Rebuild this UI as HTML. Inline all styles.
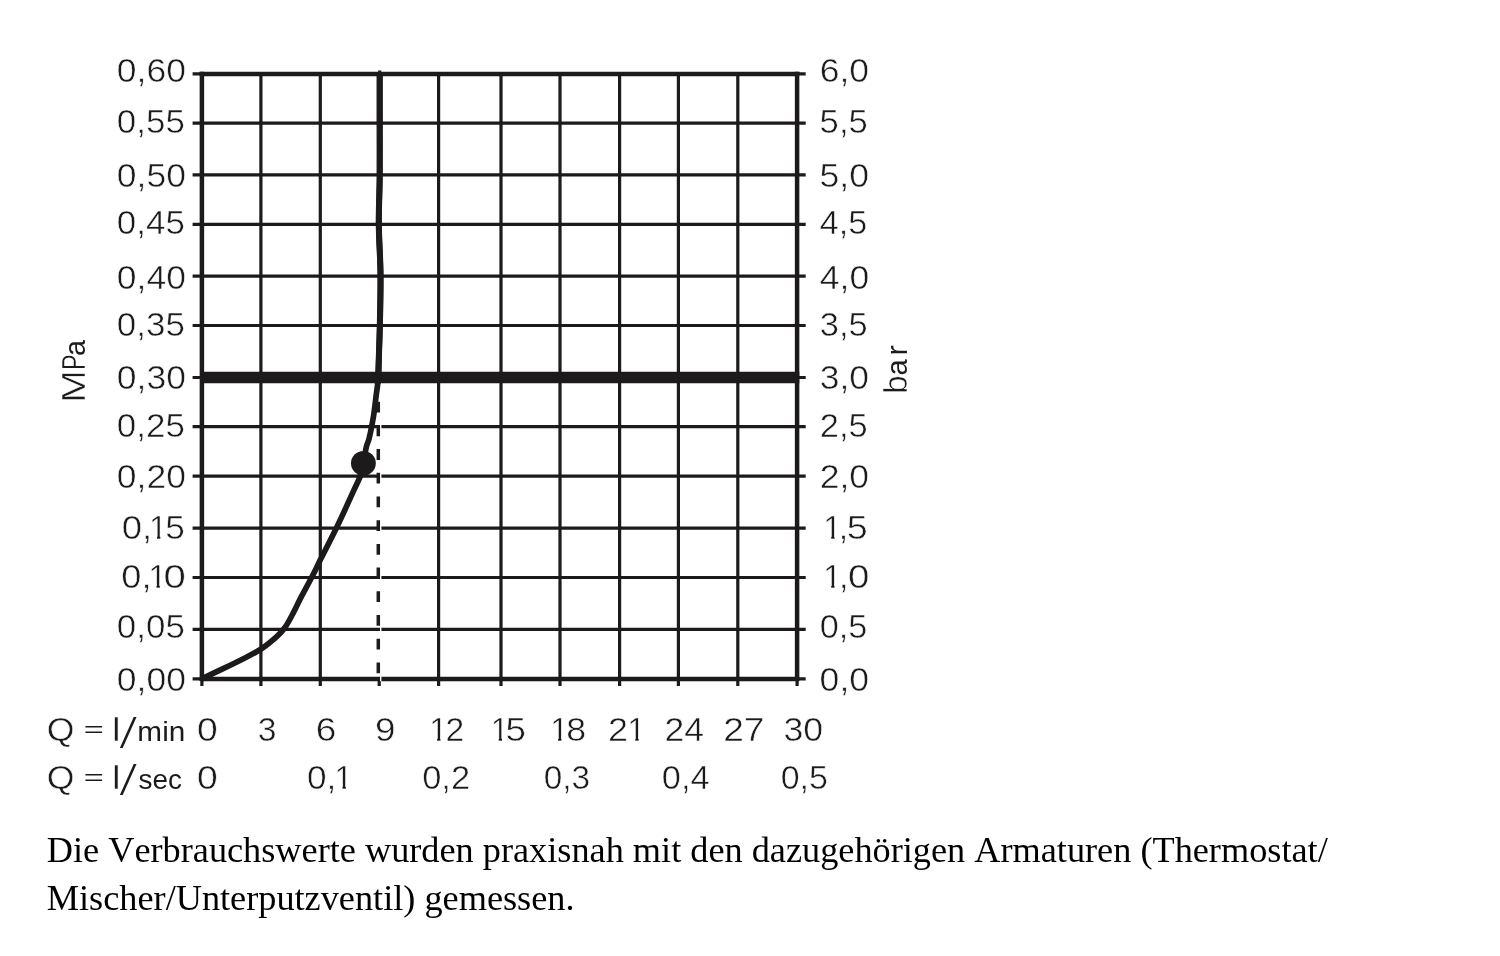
<!DOCTYPE html>
<html lang="de"><head><meta charset="utf-8"><title>Durchflussdiagramm</title>
<style>html,body{margin:0;padding:0;background:#fff}body{width:1500px;height:956px;overflow:hidden;position:relative}svg{position:absolute;left:0;top:0;display:block}.s{font-family:'Liberation Sans', sans-serif;font-size:33.8px;fill:#1c1a1b;stroke:#fff;stroke-width:0.5px}.p{position:absolute;left:46.8px;top:826.2px;margin:0;font-family:'Liberation Serif',serif;font-size:36.28px;line-height:48px;color:#000;white-space:nowrap;font-kerning:none}</style></head><body>
<svg width="1500" height="956" viewBox="0 0 1500 956">
<rect width="1500" height="956" fill="#fff"/>
<g stroke="#1c1a1b" stroke-width="3.2" fill="none"><line x1="192.6" y1="73.9" x2="805.7" y2="73.9"/><line x1="192.6" y1="123.2" x2="805.7" y2="123.2"/><line x1="192.6" y1="174.9" x2="805.7" y2="174.9"/><line x1="192.6" y1="224.4" x2="805.7" y2="224.4"/><line x1="192.6" y1="276.2" x2="805.7" y2="276.2"/><line x1="192.6" y1="325.5" x2="805.7" y2="325.5"/><line x1="192.6" y1="426.6" x2="805.7" y2="426.6"/><line x1="192.6" y1="476.2" x2="805.7" y2="476.2"/><line x1="192.6" y1="528.1" x2="805.7" y2="528.1"/><line x1="192.6" y1="577.5" x2="805.7" y2="577.5"/><line x1="192.6" y1="629.3" x2="805.7" y2="629.3"/><line x1="192.6" y1="678.9" x2="805.7" y2="678.9"/><line x1="201.9" y1="678" x2="201.9" y2="686"/><line x1="260.9" y1="74" x2="260.9" y2="686"/><line x1="320.3" y1="74" x2="320.3" y2="686"/><line x1="379.7" y1="70.6" x2="379.7" y2="377"/><line x1="379.2" y1="678" x2="379.2" y2="686"/><line x1="438.6" y1="74" x2="438.6" y2="686"/><line x1="501.0" y1="74" x2="501.0" y2="686"/><line x1="560.0" y1="74" x2="560.0" y2="686"/><line x1="619.6" y1="74" x2="619.6" y2="686"/><line x1="678.4" y1="74" x2="678.4" y2="686"/><line x1="737.8" y1="74" x2="737.8" y2="686"/><line x1="797.1" y1="678" x2="797.1" y2="686"/></g>
<g stroke="#1c1a1b" stroke-width="4.5" fill="none"><line x1="199.7" y1="73.9" x2="799.3" y2="73.9"/><line x1="199.7" y1="678.9" x2="799.3" y2="678.9"/><line x1="201.9" y1="71.7" x2="201.9" y2="681"/><line x1="797.1" y1="71.7" x2="797.1" y2="681"/></g>
<line x1="192.6" y1="377.5" x2="805.7" y2="377.5" stroke="#1c1a1b" stroke-width="3.2"/>
<line x1="200" y1="377.5" x2="799.3" y2="377.5" stroke="#1c1a1b" stroke-width="11.5"/>
<line x1="380.7" y1="383.2" x2="380.7" y2="681.3" stroke="#fff" stroke-width="1.4"/>
<line x1="378.3" y1="378" x2="378.3" y2="675" stroke="#1c1a1b" stroke-width="3.5" stroke-dasharray="10.8 12.9"/>
<path d="M201.7 678.8C205.2 677.1 215.5 672.3 222.6 668.9C229.7 665.5 237.9 661.5 244.4 658.2C250.9 654.9 255.9 652.5 261.3 648.9C266.7 645.3 273.0 640.0 277.0 636.4C281.0 632.8 282.5 631.2 285.2 627.2C287.9 623.2 290.7 617.8 293.4 612.7C296.1 607.6 298.3 602.5 301.5 596.4C304.7 590.3 309.1 582.4 312.4 576.0C315.7 569.6 317.0 566.5 321.1 558.3C325.2 550.1 331.5 538.1 336.9 527.0C342.2 515.9 349.1 500.8 353.2 491.7C357.3 482.6 359.3 480.0 361.5 472.6C363.7 465.2 364.9 453.2 366.2 447.6C367.4 442.0 368.0 442.9 369.0 438.9C370.0 434.9 371.4 428.0 372.2 423.7C373.0 419.4 373.3 417.9 374.0 413.1C374.7 408.4 375.6 400.1 376.2 395.2C376.8 390.3 377.3 387.8 377.7 383.8C378.1 379.8 378.0 380.8 378.4 371.3C378.8 361.8 379.4 343.1 379.8 326.8C380.2 310.5 380.7 290.6 380.5 273.4C380.3 256.2 378.9 239.9 378.8 223.6C378.7 207.3 379.6 193.0 379.7 175.7C379.8 158.4 379.7 137.1 379.7 120.0C379.7 102.9 379.7 80.8 379.7 73.0" fill="none" stroke="#1c1a1b" stroke-width="5.7" stroke-linecap="butt" stroke-linejoin="round"/>
<path d="M377.7 383.8C377.8 381.7 378.0 380.8 378.4 371.3C378.8 361.8 379.4 343.1 379.8 326.8C380.2 310.5 380.7 290.6 380.5 273.4C380.3 256.2 378.9 239.9 378.8 223.6C378.7 207.3 379.6 193.0 379.7 175.7C379.8 158.4 379.7 137.1 379.7 120.0C379.7 102.9 379.7 80.8 379.7 73.0" fill="none" stroke="#1c1a1b" stroke-width="6.1" stroke-linecap="butt" stroke-linejoin="round"/>
<circle cx="363.4" cy="463.3" r="12.4" fill="#1c1a1b"/>
<g class="s"><text y="82.3"><tspan x="116.82" y="82.30" textLength="69.08" lengthAdjust="spacingAndGlyphs">0,60</tspan></text>
<text y="132.9"><tspan x="116.85" y="132.90" textLength="67.99" lengthAdjust="spacingAndGlyphs">0,55</tspan></text>
<text y="186.7"><tspan x="116.82" y="186.70" textLength="69.08" lengthAdjust="spacingAndGlyphs">0,50</tspan></text>
<text y="234.4"><tspan x="116.85" y="234.40" textLength="67.99" lengthAdjust="spacingAndGlyphs">0,45</tspan></text>
<text y="289.0"><tspan x="116.82" y="289.00" textLength="69.08" lengthAdjust="spacingAndGlyphs">0,40</tspan></text>
<text y="336.0"><tspan x="116.85" y="336.00" textLength="67.99" lengthAdjust="spacingAndGlyphs">0,35</tspan></text>
<text y="389.3"><tspan x="116.82" y="389.30" textLength="69.08" lengthAdjust="spacingAndGlyphs">0,30</tspan></text>
<text y="437.0"><tspan x="116.85" y="437.00" textLength="67.99" lengthAdjust="spacingAndGlyphs">0,25</tspan></text>
<text y="488.3"><tspan x="116.82" y="488.30" textLength="69.08" lengthAdjust="spacingAndGlyphs">0,20</tspan></text>
<text y="539.4"><tspan x="121.68" y="539.40" textLength="30.47" lengthAdjust="spacingAndGlyphs">0,</tspan><tspan x="149.05" y="539.40" textLength="18.04" lengthAdjust="spacingAndGlyphs">1</tspan><tspan x="165.28" y="539.40" textLength="19.60" lengthAdjust="spacingAndGlyphs">5</tspan></text>
<text y="587.9"><tspan x="121.39" y="587.90" textLength="30.23" lengthAdjust="spacingAndGlyphs">0,</tspan><tspan x="148.55" y="587.90" textLength="18.04" lengthAdjust="spacingAndGlyphs">1</tspan><tspan x="163.52" y="587.90" textLength="22.32" lengthAdjust="spacingAndGlyphs">0</tspan></text>
<text y="637.7"><tspan x="116.85" y="637.70" textLength="67.99" lengthAdjust="spacingAndGlyphs">0,05</tspan></text>
<text y="690.9"><tspan x="116.82" y="690.90" textLength="69.08" lengthAdjust="spacingAndGlyphs">0,00</tspan></text>
<text y="82.3"><tspan x="819.70" y="82.30" textLength="49.36" lengthAdjust="spacingAndGlyphs">6,0</tspan></text>
<text y="132.9"><tspan x="819.61" y="132.90" textLength="48.17" lengthAdjust="spacingAndGlyphs">5,5</tspan></text>
<text y="186.7"><tspan x="819.56" y="186.70" textLength="49.51" lengthAdjust="spacingAndGlyphs">5,0</tspan></text>
<text y="234.4"><tspan x="819.89" y="234.40" textLength="47.46" lengthAdjust="spacingAndGlyphs">4,5</tspan></text>
<text y="289.0"><tspan x="819.85" y="289.00" textLength="49.41" lengthAdjust="spacingAndGlyphs">4,0</tspan></text>
<text y="336.0"><tspan x="819.82" y="336.00" textLength="47.85" lengthAdjust="spacingAndGlyphs">3,5</tspan></text>
<text y="389.3"><tspan x="819.76" y="389.30" textLength="49.29" lengthAdjust="spacingAndGlyphs">3,0</tspan></text>
<text y="437.0"><tspan x="819.76" y="437.00" textLength="47.91" lengthAdjust="spacingAndGlyphs">2,5</tspan></text>
<text y="488.3"><tspan x="819.70" y="488.30" textLength="49.36" lengthAdjust="spacingAndGlyphs">2,0</tspan></text>
<text y="539.4"><tspan x="823.25" y="539.40" textLength="18.04" lengthAdjust="spacingAndGlyphs">1</tspan><tspan x="838.65" y="539.40" textLength="9.39" lengthAdjust="spacingAndGlyphs">,</tspan><tspan x="846.65" y="539.40" textLength="20.95" lengthAdjust="spacingAndGlyphs">5</tspan></text>
<text y="587.9"><tspan x="823.25" y="587.90" textLength="18.04" lengthAdjust="spacingAndGlyphs">1</tspan><tspan x="838.90" y="587.90" textLength="9.39" lengthAdjust="spacingAndGlyphs">,</tspan><tspan x="847.90" y="587.90" textLength="21.36" lengthAdjust="spacingAndGlyphs">0</tspan></text>
<text y="637.7"><tspan x="819.68" y="637.70" textLength="47.68" lengthAdjust="spacingAndGlyphs">0,5</tspan></text>
<text y="690.9"><tspan x="819.62" y="690.90" textLength="49.44" lengthAdjust="spacingAndGlyphs">0,0</tspan></text>
<text y="741.4"><tspan x="197.14" y="741.40" textLength="20.77" lengthAdjust="spacingAndGlyphs">0</tspan></text>
<text y="741.4"><tspan x="257.66" y="741.40" textLength="18.74" lengthAdjust="spacingAndGlyphs">3</tspan></text>
<text y="741.4"><tspan x="315.71" y="741.40" textLength="20.55" lengthAdjust="spacingAndGlyphs">6</tspan></text>
<text y="741.4"><tspan x="375.00" y="741.40" textLength="20.46" lengthAdjust="spacingAndGlyphs">9</tspan></text>
<text y="741.4"><tspan x="429.15" y="741.40" textLength="18.04" lengthAdjust="spacingAndGlyphs">1</tspan><tspan x="445.41" y="741.40" textLength="18.73" lengthAdjust="spacingAndGlyphs">2</tspan></text>
<text y="741.4"><tspan x="490.75" y="741.40" textLength="18.04" lengthAdjust="spacingAndGlyphs">1</tspan><tspan x="505.60" y="741.40" textLength="20.46" lengthAdjust="spacingAndGlyphs">5</tspan></text>
<text y="741.4"><tspan x="550.15" y="741.40" textLength="18.04" lengthAdjust="spacingAndGlyphs">1</tspan><tspan x="566.25" y="741.40" textLength="19.84" lengthAdjust="spacingAndGlyphs">8</tspan></text>
<text y="741.4"><tspan x="608.07" y="741.40" textLength="20.01" lengthAdjust="spacingAndGlyphs">2</tspan><tspan x="627.35" y="741.40" textLength="18.04" lengthAdjust="spacingAndGlyphs">1</tspan></text>
<text y="741.4"><tspan x="664.60" y="741.40" textLength="39.51" lengthAdjust="spacingAndGlyphs">24</tspan></text>
<text y="741.4"><tspan x="723.20" y="741.40" textLength="41.33" lengthAdjust="spacingAndGlyphs">27</tspan></text>
<text y="741.4"><tspan x="783.45" y="741.40" textLength="39.73" lengthAdjust="spacingAndGlyphs">30</tspan></text>
<text y="788.7"><tspan x="197.14" y="788.70" textLength="20.77" lengthAdjust="spacingAndGlyphs">0</tspan></text>
<text y="788.7"><tspan x="306.94" y="788.70" textLength="29.39" lengthAdjust="spacingAndGlyphs">0,</tspan><tspan x="334.55" y="788.70" textLength="18.04" lengthAdjust="spacingAndGlyphs">1</tspan></text>
<text y="788.7"><tspan x="422.17" y="788.70" textLength="47.96" lengthAdjust="spacingAndGlyphs">0,2</tspan></text>
<text y="788.7"><tspan x="543.72" y="788.70" textLength="46.39" lengthAdjust="spacingAndGlyphs">0,3</tspan></text>
<text y="788.7"><tspan x="661.87" y="788.70" textLength="47.78" lengthAdjust="spacingAndGlyphs">0,4</tspan></text>
<text y="788.7"><tspan x="780.69" y="788.70" textLength="47.25" lengthAdjust="spacingAndGlyphs">0,5</tspan></text>
<text y="741.4"><tspan x="46.85" y="741.40" textLength="27.74" lengthAdjust="spacingAndGlyphs">Q</tspan> <tspan x="83.75" y="737.25" textLength="19.98" lengthAdjust="spacingAndGlyphs" style="font-family:'Liberation Sans', sans-serif;font-size:22px;stroke:none">=</tspan> <tspan x="111.70" y="741.40" textLength="9.02" lengthAdjust="spacingAndGlyphs">l</tspan><tspan x="118.91" y="743.80" textLength="18.41" lengthAdjust="spacingAndGlyphs" style="font-family:'DejaVu Sans Light', 'DejaVu Sans', sans-serif;font-size:37.7px;stroke:none">/</tspan><tspan x="137.39" y="741.40" textLength="47.89" lengthAdjust="spacingAndGlyphs" style="font-family:'Liberation Sans', sans-serif;font-size:27.2px;stroke:none">min</tspan></text>
<text y="788.7"><tspan x="46.85" y="788.70" textLength="27.74" lengthAdjust="spacingAndGlyphs">Q</tspan> <tspan x="83.75" y="784.55" textLength="19.98" lengthAdjust="spacingAndGlyphs" style="font-family:'Liberation Sans', sans-serif;font-size:22px;stroke:none">=</tspan> <tspan x="111.70" y="788.70" textLength="9.02" lengthAdjust="spacingAndGlyphs">l</tspan><tspan x="118.91" y="791.10" textLength="18.41" lengthAdjust="spacingAndGlyphs" style="font-family:'DejaVu Sans Light', 'DejaVu Sans', sans-serif;font-size:37.7px;stroke:none">/</tspan><tspan x="138.53" y="788.70" textLength="43.40" lengthAdjust="spacingAndGlyphs" style="font-family:'Liberation Sans', sans-serif;font-size:27.2px;stroke:none">sec</tspan></text>
<text y="0" transform="translate(84.7 399.4) rotate(-90)"><tspan x="-3.48" y="0.00" textLength="32.64" lengthAdjust="spacingAndGlyphs">M</tspan><tspan x="29.33" y="0.00" textLength="15.59" lengthAdjust="spacingAndGlyphs">P</tspan><tspan x="43.45" y="0.00" textLength="15.96" lengthAdjust="spacingAndGlyphs" style="font-family:'Liberation Sans', sans-serif;font-size:28.6px;stroke:none">a</tspan></text>
<text y="0" transform="translate(907.2 391.6) rotate(-90)"><tspan x="-2.48" y="0.00" textLength="18.67" lengthAdjust="spacingAndGlyphs">b</tspan><tspan x="16.03" y="0.00" textLength="16.18" lengthAdjust="spacingAndGlyphs" style="font-family:'Liberation Sans', sans-serif;font-size:28.6px;stroke:none">a</tspan><tspan x="36.06" y="0.00" textLength="10.21" lengthAdjust="spacingAndGlyphs" style="font-family:'Liberation Sans', sans-serif;font-size:28.6px;stroke:none">r</tspan></text></g>
<g fill="#fff"><rect x="150.25" y="535.20" width="6.74" height="5"/><rect x="160.34" y="535.20" width="6.19" height="5"/><rect x="149.75" y="583.70" width="6.74" height="5"/><rect x="159.84" y="583.70" width="5.06" height="5"/><rect x="824.45" y="535.20" width="6.74" height="5"/><rect x="834.54" y="535.20" width="6.19" height="5"/><rect x="824.45" y="583.70" width="6.74" height="5"/><rect x="834.54" y="583.70" width="6.19" height="5"/><rect x="430.35" y="737.20" width="6.74" height="5"/><rect x="440.44" y="737.20" width="6.19" height="5"/><rect x="491.95" y="737.20" width="6.74" height="5"/><rect x="502.04" y="737.20" width="5.06" height="5"/><rect x="551.35" y="737.20" width="6.74" height="5"/><rect x="561.44" y="737.20" width="6.19" height="5"/><rect x="628.55" y="737.20" width="6.74" height="5"/><rect x="638.64" y="737.20" width="6.19" height="5"/><rect x="335.75" y="784.50" width="6.74" height="5"/><rect x="345.84" y="784.50" width="6.19" height="5"/></g>
</svg>
<p class="p">Die Verbrauchswerte wurden praxisnah mit den dazugehörigen Armaturen (Thermostat/<br>Mischer/Unterputzventil) gemessen.</p>
</body></html>
